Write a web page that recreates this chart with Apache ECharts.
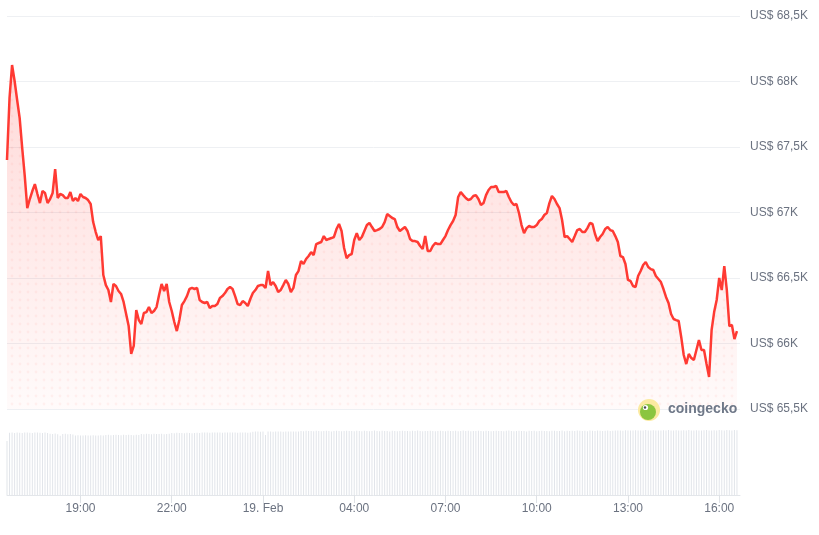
<!DOCTYPE html>
<html>
<head>
<meta charset="utf-8">
<script src="https://cdn.jsdelivr.net/npm/echarts@6/dist/echarts.min.js"></script>
<style>
html,body{margin:0;padding:0;background:#fff;}
#chart{width:819px;height:535px;}
</style>
</head>
<body>
<div id="chart"></div>
<script>
// time: minutes since 18 Feb 00:00, 5-minute steps starting 16:35
const startMinute = 995;
const stepMinutes = 5;

const priceValues = [
67401,67874,68126,68004,67859,67721,67492,67279,67034,67103,
67164,67217,67141,67072,67164,67149,67072,67103,67149,67332,
67111,67141,67133,67111,67111,67156,67088,67111,67088,67141,
67118,67111,67095,67065,66927,66851,66790,66820,66523,66446,
66408,66317,66454,66439,66401,66378,66317,66225,66133,65920,
65981,66256,66179,66149,66233,66240,66278,66233,66248,66278,
66370,66454,66401,66454,66317,66248,66164,66095,66179,66294,
66324,66362,66416,66424,66416,66424,66332,66317,66309,66317,
66271,66286,66286,66301,66347,66362,66385,66416,66431,66416,
66362,66301,66294,66324,66309,66286,66340,66385,66408,66439,
66446,66446,66424,66553,66446,66469,66439,66393,66408,66446,
66485,66454,66393,66424,66523,66553,66629,66607,66645,66668,
66698,66675,66759,66767,66775,66820,66790,66798,66805,66813,
66874,66912,66859,66729,66652,66675,66683,66790,66843,66790,
66813,66859,66904,66920,66889,66859,66866,66874,66889,66927,
66988,66973,66958,66950,66889,66859,66874,66889,66859,66798,
66782,66782,66775,66744,66721,66820,66706,66706,66744,66767,
66759,66759,66790,66820,66866,66904,66935,66981,67118,67156,
67133,67111,67095,67103,67126,67133,67103,67057,67072,67133,
67172,67195,67195,67202,67156,67156,67156,67164,67118,67080,
67057,67065,66996,66904,66843,66881,66897,66889,66889,66904,
66935,66950,66981,66996,67072,67126,67103,67065,67034,66943,
66813,66820,66798,66775,66820,66866,66874,66851,66851,66881,
66920,66912,66836,66782,66813,66836,66874,66889,66866,66859,
66820,66775,66668,66660,66607,66485,66477,66439,66431,66515,
66553,66599,66622,66584,66568,66561,66515,66492,66469,66416,
66355,66309,66225,66187,66179,66172,66050,65912,65843,65920,
65889,65874,65950,66027,65950,65950,65843,65744,66103,66240,
66332,66500,66408,66591,66408,66133,66141,66034,66095
];

// 24h volume (billion US$)
const volumeValues = [
27.0,
31.1,31.2,31.0,31.2,31.1,31.0,31.2,31.3,31.1,31.0,31.2,31.3,31.1,31.0,31.2,31.0,
30.6,30.5,30.7,30.4,29.6,30.5,30.6,30.4,30.5,30.3,
29.8,29.9,29.7,29.8,29.9,29.8,29.7,29.9,29.8,29.7,29.9,29.8,
30.0,30.1,29.9,30.0,30.1,30.0,29.9,30.1,30.0,30.1,30.0,29.9,30.1,30.0,
30.5,30.4,30.6,30.5,30.4,30.6,30.5,30.5,30.6,30.4,30.5,30.6,
31.0,30.9,31.1,31.0,31.0,30.9,31.1,31.0,30.9,31.0,31.1,31.0,
31.2,31.3,31.2,31.1,31.3,31.2,31.2,31.3,31.1,31.2,31.3,31.2,31.2,31.3,31.1,31.2,31.3,31.2,31.1,31.2,
31.6,31.7,31.8,31.6,31.7,30.0,31.7,31.8,31.6,31.7,31.8,31.7,31.6,31.7,31.8,31.7,31.8,31.7,31.8,
32.0,31.9,32.1,32.0,32.0,31.9,32.1,32.0,31.9,32.0,32.1,32.0,31.8,32.0,32.1,32.0,31.9,32.0,32.1,32.0,32.0,31.9,32.1,32.0,31.9,
32.1,32.0,31.9,32.0,32.2,32.0,31.9,32.1,32.0,32.0,31.8,32.1,32.0,31.9,32.0,32.1,32.0,32.0,31.9,32.1,32.0,32.2,32.0,31.9,32.0,
32.0,32.1,32.0,31.9,32.0,32.1,32.0,31.9,32.1,32.0,32.0,32.1,31.9,32.0,32.2,32.0,32.1,31.9,32.0,32.0,32.1,32.0,31.9,32.1,32.0,
31.9,32.0,32.1,32.0,32.0,31.9,32.1,32.2,32.0,31.9,32.0,32.1,32.0,32.0,31.8,32.1,32.0,32.1,31.9,32.0,32.1,32.0,32.0,31.9,32.1,
32.1,32.0,32.0,32.2,31.9,32.1,32.0,32.1,32.0,32.2,32.1,32.0,32.1,31.9,32.2,32.1,32.0,32.2,32.1,32.0,32.1,32.2,32.0,32.1,32.2,
32.2,32.3,32.1,32.4,32.2,32.3,32.2,32.4,32.3,32.2,32.3,32.5,32.2,32.3,32.4,32.2,32.3,32.2,32.4,32.3,32.5,32.3,32.2,32.4,
32.3,32.2,32.4,32.3,32.5,32.2,32.3,32.4,32.3,32.2,32.4,32.5,32.3,32.2,32.4,32.3,32.5,32.4,32.3,32.5,32.4,32.3,32.5,32.4
];

const xTickValues = [1140, 1320, 1500, 1680, 1860, 2040, 2220, 2400];
const xTickLabels = ['19:00', '22:00', '19. Feb', '04:00', '07:00', '10:00', '13:00', '16:00'];
const yMin = 65500, yMax = 68500, yStep = 500;

const priceData = priceValues.map((v, i) => [startMinute + i * stepMinutes, v]);
const volumeData = volumeValues.map((v, i) => [startMinute + i * stepMinutes, v]);

const xMin = 995, xMax = 2441;

// dotted pattern for the area
const pat = document.createElement('canvas');
pat.width = 8; pat.height = 8;
const pctx = pat.getContext('2d');
pctx.fillStyle = 'rgba(255,58,51,0.08)';
pctx.beginPath(); pctx.arc(4, 4, 1.4, 0, Math.PI * 2); pctx.fill();

const FONT = '"Liberation Sans", Arial, sans-serif';
const chart = echarts.init(document.getElementById('chart'), null, {renderer: 'canvas'});

chart.setOption({
  animation: false,
  backgroundColor: '#ffffff',
  grid: [
    {left: 7, right: 79, top: 16, bottom: 126},
    {left: 7, right: 79, top: 425, bottom: 40},
    {left: 7, right: 79, top: 524, height: 30}
  ],
  xAxis: [
    {type: 'value', gridIndex: 0, min: xMin, max: xMax, show: false},
    {type: 'value', gridIndex: 1, min: xMin, max: xMax,
      axisLine: {show: true, lineStyle: {color: '#e3e6ea', width: 1}},
      axisTick: {show: true, customValues: xTickValues, length: 8, lineStyle: {color: '#dfe2e6'}},
      axisLabel: {show: true, customValues: xTickValues, margin: 8, color: '#6b7280', fontSize: 12, fontFamily: FONT,
        formatter: v => xTickLabels[xTickValues.indexOf(v)]},
      splitLine: {show: false}},
    {type: 'value', gridIndex: 2, min: 0, max: 733, position: 'top',
      axisLine: {show: true, lineStyle: {color: '#e8e9ec', type: 'dotted', width: 1}},
      axisTick: {show: true, inside: true, customValues: [39.7, 154, 268], length: 14, lineStyle: {color: '#e8e9ec'}},
      axisLabel: {show: false}, splitLine: {show: false}}
  ],
  yAxis: [
    {type: 'value', gridIndex: 0, position: 'right', min: yMin, max: yMax, interval: yStep,
      axisLine: {show: false}, axisTick: {show: false},
      axisLabel: {margin: 10, color: '#6b7280', fontSize: 12, fontFamily: FONT,
        formatter: v => 'US$ ' + String(v / 1000).replace('.', ',') + 'K'},
      splitLine: {show: true, lineStyle: {color: '#eef0f3', width: 1}}},
    {type: 'value', gridIndex: 1, min: 0, max: 35, show: false},
    {type: 'value', gridIndex: 2, min: 0, max: 1, show: false}
  ],
  series: [
    {type: 'bar', xAxisIndex: 1, yAxisIndex: 1, data: volumeData, barWidth: 1,
      itemStyle: {color: '#e2e5ea'}, silent: true},
    {type: 'line', xAxisIndex: 0, yAxisIndex: 0, data: priceData, showSymbol: false, silent: true,
      lineStyle: {width: 0}, areaStyle: {color: {image: pat, repeat: 'repeat'}, origin: 'start'}, z: 2},
    {type: 'line', xAxisIndex: 0, yAxisIndex: 0, data: priceData, showSymbol: false, silent: true,
      lineStyle: {color: '#ff3a33', width: 2.5},
      areaStyle: {origin: 'start', color: new echarts.graphic.LinearGradient(0, 0, 0, 1, [
        {offset: 0, color: 'rgba(255,58,51,0.28)'},
        {offset: 1, color: 'rgba(255,58,51,0.03)'}
      ])}, z: 3}
  ],
  graphic: [
    {type: 'circle', shape: {cx: 649, cy: 410, r: 11}, style: {fill: '#fbeaa0'}, z: 10},
    {type: 'circle', shape: {cx: 648, cy: 412, r: 8}, style: {fill: '#8bc53f'}, z: 11},
    {type: 'circle', shape: {cx: 645.5, cy: 407.5, r: 2.6}, style: {fill: '#ffffff'}, z: 12},
    {type: 'circle', shape: {cx: 645, cy: 407.5, r: 1.2}, style: {fill: '#4a4a4a'}, z: 13},
    {type: 'text', left: 668, top: 402, style: {text: 'coingecko', fill: '#6f7888', font: 'bold 14px ' + FONT}, z: 10}
  ]
});
</script>
</body>
</html>
